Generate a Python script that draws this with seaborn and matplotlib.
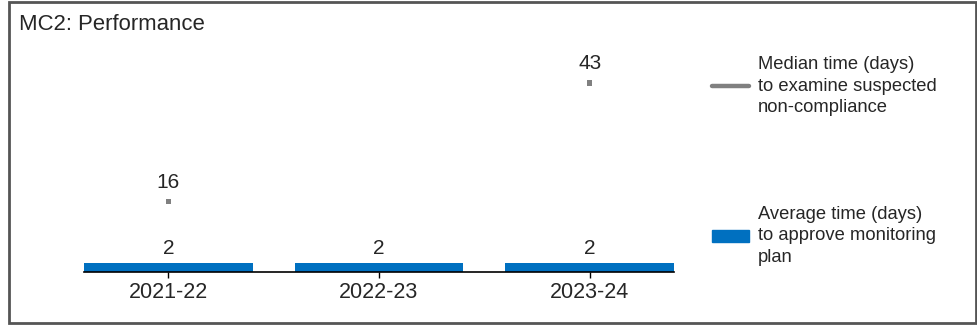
import matplotlib
matplotlib.use("Agg")
import matplotlib.pyplot as plt
import seaborn as sns
import pandas as pd
import numpy as np
from matplotlib.patches import Rectangle, Patch
from matplotlib.lines import Line2D

years = ["2021-22", "2022-23", "2023-24"]
avg_approve = [2, 2, 2]
median_examine = [16, np.nan, 43]
avg_label = "Average time (days)\nto approve monitoring\nplan"
median_label = "Median time (days)\nto examine suspected\nnon-compliance"
title = "MC2: Performance"

BLUE = "#0070C0"
GREY = "#808080"
TXT = "#262626"

sns.set_theme(style="white")
plt.rcParams["font.family"] = ["Liberation Sans", "DejaVu Sans"]

df = pd.DataFrame({"year": years, "avg": avg_approve, "median": median_examine})

fig = plt.figure(figsize=(9.78, 3.27), dpi=100)
W, H = 978, 327
ax = fig.add_axes([84 / W, 1 - 272 / H, (674 - 84) / W, (272 - 52) / H])

sns.barplot(data=df, x="year", y="avg", color=BLUE, width=0.8, ax=ax,
            saturation=1, edgecolor="none")
sns.scatterplot(data=df, x="year", y="median", ax=ax, marker="s", s=16,
                color=GREY, edgecolor="none", zorder=3)

ax.set_xlim(-0.4, 2.4)
ax.set_ylim(0, 50)
ax.set_xlabel("")
ax.set_ylabel("")
ax.set_yticks([])
for s in ["top", "right", "left"]:
    ax.spines[s].set_visible(False)
ax.spines["bottom"].set_color("#000000")
ax.spines["bottom"].set_linewidth(1.2)
ax.tick_params(axis="x", bottom=True, length=4, width=1, color="#000000",
               labelsize=15.5, labelcolor=TXT, pad=3)

for i, v in enumerate(avg_approve):
    ax.annotate(f"{v:g}", (i, v), xytext=(0, 4), textcoords="offset points",
                ha="center", va="bottom", fontsize=15, color=TXT)
for i, v in enumerate(median_examine):
    if not np.isnan(v):
        ax.annotate(f"{v:g}", (i, v), xytext=(0, 7), textcoords="offset points",
                    ha="center", va="bottom", fontsize=15, color=TXT)

fig.text(19 / W, 1 - 25 / H, title, ha="left", va="center", fontsize=15.9, color=TXT)

common = dict(loc="center left", frameon=False, fontsize=13.2, handlelength=2.0,
              handletextpad=0.5, borderpad=0, borderaxespad=0, labelcolor=TXT)
leg1 = fig.legend(handles=[Line2D([0], [0], color=GREY, lw=3.2)], labels=[median_label],
                  bbox_to_anchor=(712 / W, 1 - 86 / H), **common)
leg2 = fig.legend(handles=[Patch(color=BLUE)], labels=[avg_label],
                  bbox_to_anchor=(712 / W, 1 - 236 / H), handleheight=0.7, **common)
for leg in (leg1, leg2):
    for t in leg.get_texts():
        t.set_linespacing(1.38)

fig.patches.append(Rectangle((9 / W, 1 - 323 / H), (976 - 9) / W, (323 - 2) / H,
                             transform=fig.transFigure, fill=False,
                             edgecolor="#555555", linewidth=2))

fig.savefig("out.png", dpi=100)
